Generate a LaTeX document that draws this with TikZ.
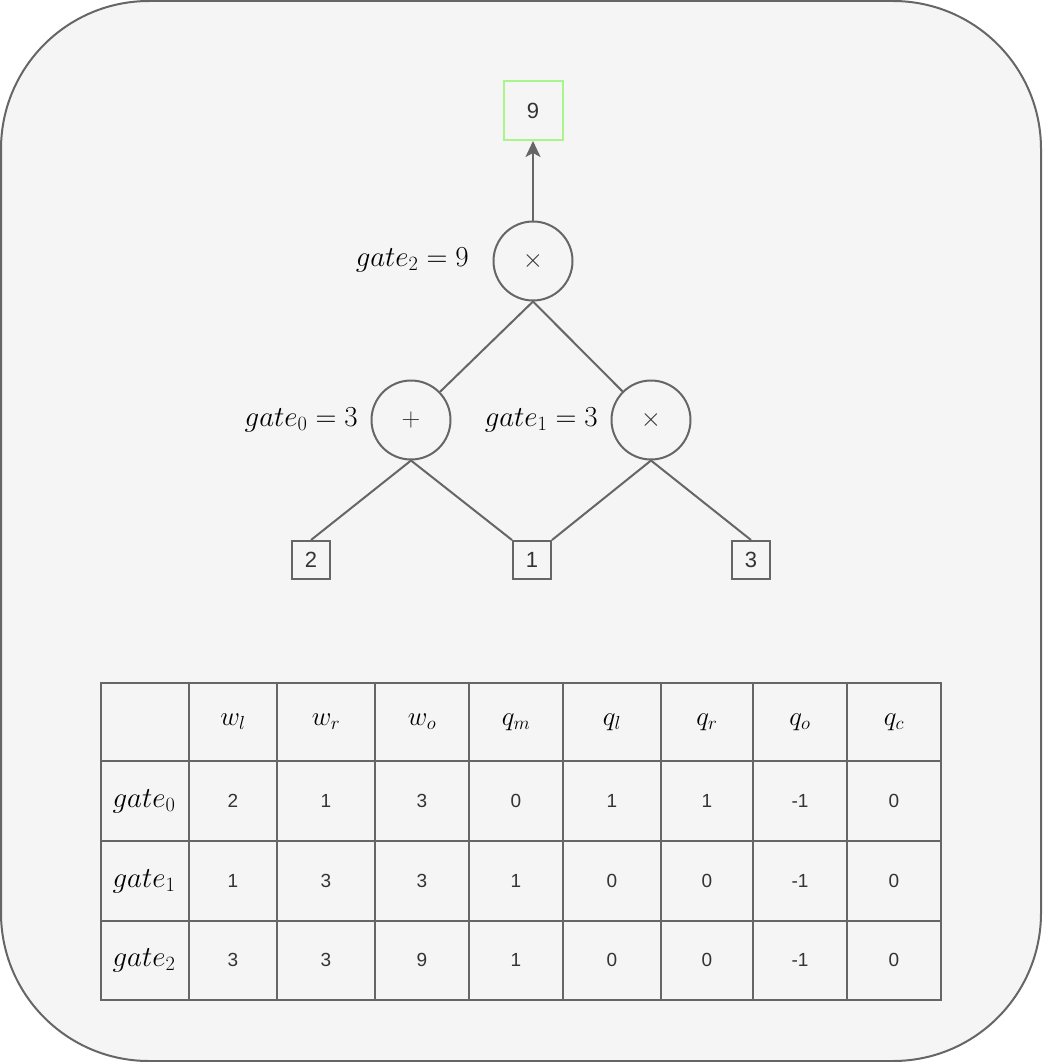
\RequirePackage{fix-cm}
\documentclass[tikz,border=0pt]{standalone}
\usepackage[no-math]{fontspec}
\newfontfamily\helv{Liberation Sans}
\usetikzlibrary{arrows.meta}
\definecolor{bgc}{HTML}{F5F5F5}
\definecolor{strk}{HTML}{666666}
\definecolor{txt}{HTML}{333333}
\definecolor{grn}{HTML}{A9F58C}
\begin{document}
\begin{tikzpicture}[x=1pt,y=-1pt,
  every node/.style={inner sep=0pt},
  gatec/.style={circle,draw=strk,line width=2pt,minimum size=79pt,font=\fontsize{26}{30}\selectfont,text=txt},
  valbox/.style={draw=strk,line width=2pt,minimum size=38pt,font=\helv\fontsize{22}{26}\selectfont,text=txt},
  outbox/.style={draw=grn,line width=2pt,minimum size=59pt,font=\helv\fontsize{22}{26}\selectfont,text=txt},
  conn/.style={draw=strk,line width=2pt},
  lbl/.style={font=\fontsize{29}{33}\selectfont,anchor=east},
  hdr/.style={font=\fontsize{27}{31}\selectfont},
  rowl/.style={font=\fontsize{29}{33}\selectfont},
  cell/.style={font=\helv\fontsize{19}{23}\selectfont,text=txt},
  grid/.style={draw=strk,line width=2pt},
]
\useasboundingbox (0,0) rectangle (1042,1062);
\draw[fill=bgc,draw=strk,line width=2pt,rounded corners=148pt] (1,1) rectangle (1041,1061);

% graph
\node[outbox] (out) at (533,110.5) {9};
\node[gatec] (g2) at (533,261) {$\times$};
\node[gatec] (g0) at (411,420) {$+$};
\node[gatec] (g1) at (651,420) {$\times$};
\node[valbox] (b2) at (311,560) {2};
\node[valbox] (b1) at (532,560) {1};
\node[valbox] (b3) at (751,560) {3};

\node[lbl] (l2) at (469,260) {$gate_2 = 9$};
\node[lbl] (l0) at (358,420) {$gate_0 = 3$};
\node[lbl] (l1) at (598,420) {$gate_1 = 3$};

\draw[conn,-{Stealth[length=16pt,width=15pt,inset=4pt]}] (g2.north) -- (out.south);
\draw[conn] (g2.south) -- (g0);
\draw[conn] (g2.south) -- (g1);
\draw[conn] (g0.south) -- (b2.north);
\draw[conn] (g0.south) -- (b1.north west);
\draw[conn] (g1.south) -- (b1.north east);
\draw[conn] (g1.south) -- (b3.north);

% table grid
\foreach \x in {189,277,375,469,563,661,753,847}
  \draw[grid] (\x,683) -- (\x,1000);
\foreach \y in {761,841,921}
  \draw[grid] (101,\y) -- (941,\y);
\draw[grid] (101,683) rectangle (941,1000);

% header
\foreach \t [count=\i] in {w_l,w_r,w_o,q_m,q_l,q_r,q_o,q_c}{
  \pgfmathsetmacro{\cx}{{145,233,326,422,516,612,707,800,894}[\i]}
  \node[hdr] (h\i) at (\cx,722) {$\t$};
}
% row labels
\node[rowl] (r0) at (144,801) {$gate_0$};
\node[rowl] (r1) at (144,881) {$gate_1$};
\node[rowl] (r2) at (144,960) {$gate_2$};
% cells
\foreach \rowy/\vals [count=\r] in {801/{2,1,3,0,1,1,-1,0},881/{1,3,3,1,0,0,-1,0},960/{3,3,9,1,0,0,-1,0}}{
  \foreach \v [count=\i] in \vals {
    \pgfmathsetmacro{\cx}{{145,233,326,422,516,612,707,800,894}[\i]}
    \node[cell] (c\r-\i) at (\cx,\rowy) {\v};
  }
}
\end{tikzpicture}
\end{document}
